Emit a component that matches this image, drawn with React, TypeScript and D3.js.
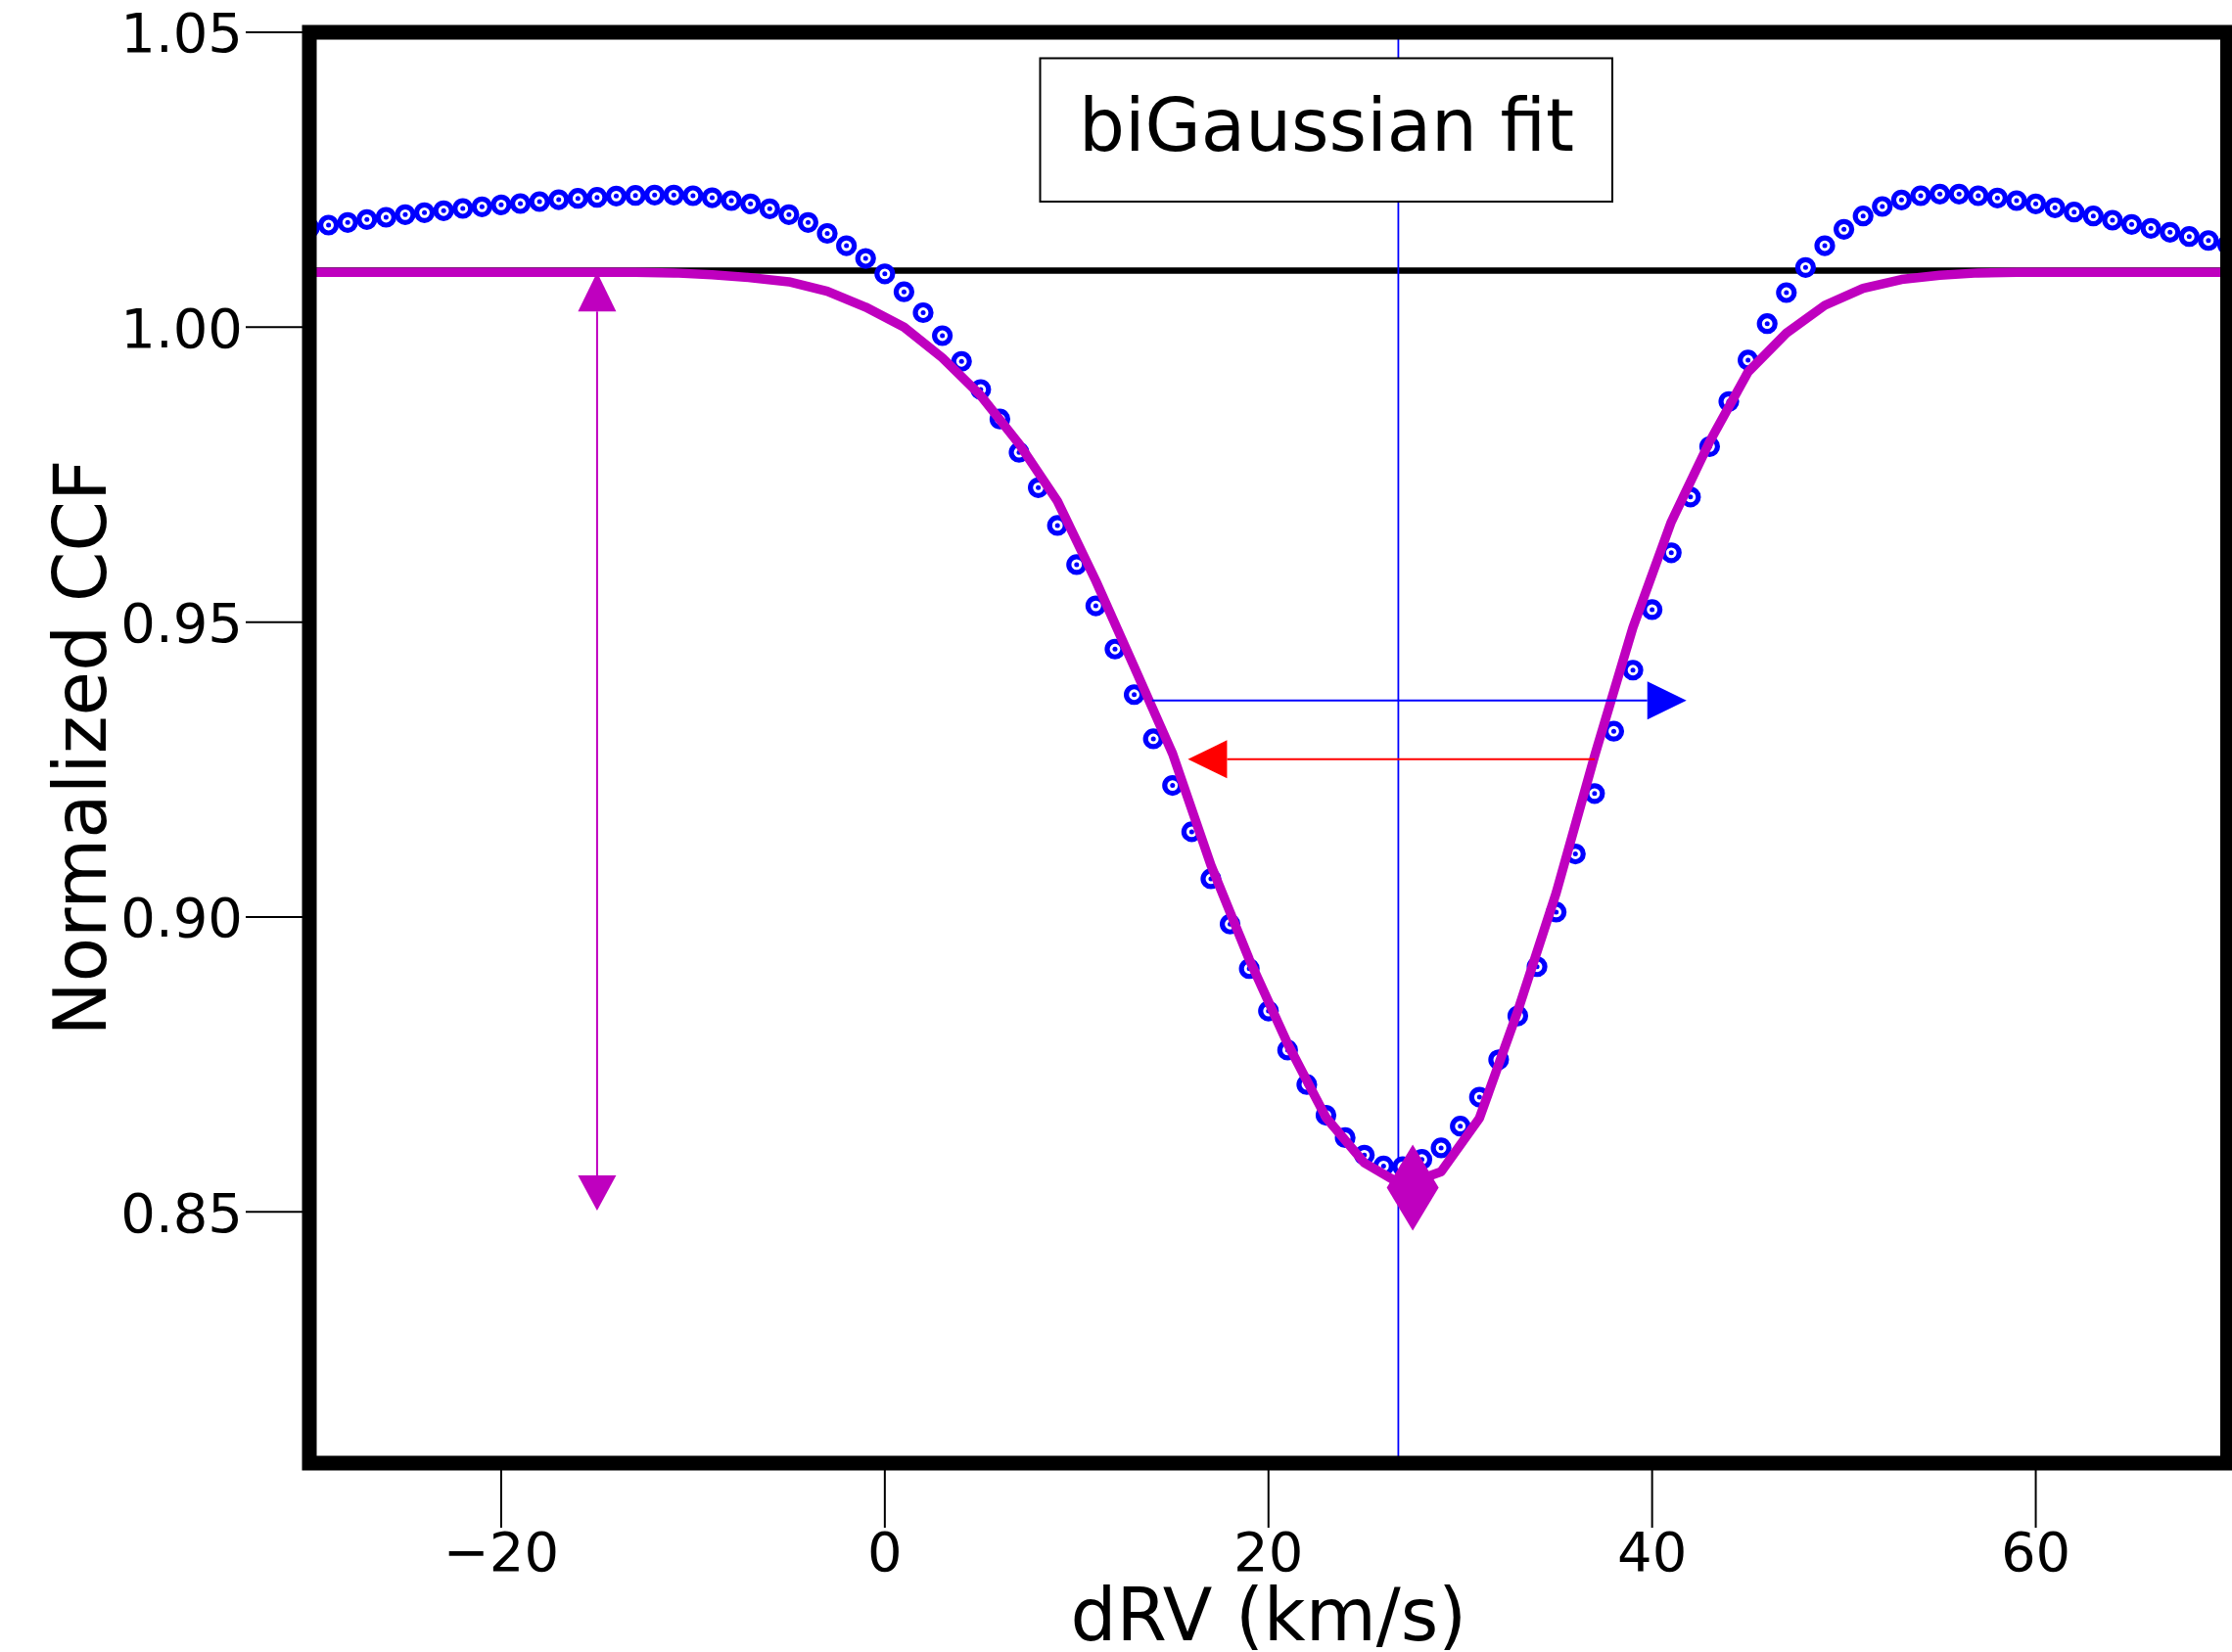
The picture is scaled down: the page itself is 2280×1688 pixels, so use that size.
import React, { useEffect } from "react";
import * as d3 from "d3";

// Radial velocity grid (km/s) and normalized CCF values
const rv = [
  -30, -29, -28, -27, -26, -25, -24, -23, -22, -21, -20, -19, -18, -17, -16, -15, -14, -13, -12, -11,
  -10, -9, -8, -7, -6, -5, -4, -3, -2, -1, 0, 1, 2, 3, 4, 5, 6, 7, 8, 9,
  10, 11, 12, 13, 14, 15, 16, 17, 18, 19, 20, 21, 22, 23, 24, 25, 26, 27, 28, 29,
  30, 31, 32, 33, 34, 35, 36, 37, 38, 39, 40, 41, 42, 43, 44, 45, 46, 47, 48, 49,
  50, 51, 52, 53, 54, 55, 56, 57, 58, 59, 60, 61, 62, 63, 64, 65, 66, 67, 68, 69, 70,
];
const ccf = [
  1.0168, 1.01731, 1.01775, 1.01825, 1.01864, 1.01908, 1.01941, 1.01975, 1.02013, 1.02041,
  1.02074, 1.02096, 1.02129, 1.02162, 1.02184, 1.02201, 1.02223, 1.02234, 1.0224, 1.0224,
  1.02229, 1.02195, 1.02146, 1.0209, 1.02007, 1.01908, 1.01775, 1.0159, 1.01381, 1.01166,
  1.00904, 1.006, 1.00246, 0.99856, 0.9942, 0.98943, 0.98442, 0.97878, 0.97278, 0.96638,
  0.95974, 0.95275, 0.94542, 0.9377, 0.9302, 0.9223, 0.91445, 0.90647, 0.89879, 0.89124,
  0.88405, 0.87743, 0.87159, 0.86638, 0.86258, 0.85962, 0.85778, 0.85767, 0.85889, 0.86085,
  0.86453, 0.86945, 0.87579, 0.88322, 0.89157, 0.90083, 0.91069, 0.92093, 0.93149, 0.94185,
  0.95211, 0.96175, 0.97121, 0.97975, 0.98739, 0.99442, 1.0006, 1.00586, 1.01012, 1.01382,
  1.01659, 1.01885, 1.02046, 1.02157, 1.02229, 1.02257, 1.02257, 1.02229, 1.0219, 1.02146,
  1.0209, 1.02025, 1.01952, 1.01885, 1.01814, 1.01742, 1.01676, 1.0161, 1.01537, 1.0147, 1.014,
];

// biGaussian fit curve
const fitRv = [
  -30, -29, -27, -25, -23, -21, -19, -17, -15, -13, -11, -9, -7, -5, -3, -1, 1, 3, 5, 7, 9,
  11, 13, 15, 17, 19, 21, 23, 25, 27, 29, 31, 33, 35, 37, 39, 41, 43, 45, 47, 49,
  51, 53, 55, 57, 59, 61, 63, 65, 67, 69, 70,
];
const fitCcf = [
  1.0093, 1.0093, 1.0093, 1.0093, 1.0093, 1.0093, 1.0093, 1.0093, 1.0093, 1.0093, 1.0092, 1.0089,
  1.0084, 1.0077, 1.0061, 1.0034, 1.0, 0.9948, 0.9884, 0.9802, 0.9705,
  0.957, 0.9424, 0.9277, 0.9088, 0.8928, 0.8785, 0.866, 0.8583, 0.8545, 0.8568,
  0.8659, 0.8841, 0.9041, 0.9273, 0.9491, 0.967, 0.9806, 0.9924, 0.999, 1.0037,
  1.0066, 1.0081, 1.0088, 1.0092, 1.0093, 1.0093, 1.0093, 1.0093, 1.0093, 1.0093, 1.0093,
];

const continuum = 1.0096;
const centerRv = 26.77;
const minRv = 27.52;
const minCcf = 0.8541;
const blueArrowY = 0.9367;
const blueArrowFrom = 13.93;
const blueArrowTo = 41.79;
const redArrowY = 0.92673;
const redArrowFrom = 37.01;
const redArrowTo = 15.8;
const depthRv = -15;
const depthTop = 1.0093;
const depthBottom = 0.8502;

const xTicks = [-20, 0, 20, 40, 60];
const yTicks = [0.85, 0.9, 0.95, 1.0, 1.05];
const titleText = "biGaussian fit";
const xLabel = "dRV (km/s)";
const yLabel = "Normalized CCF";

const W = 2280;
const H = 1688;
const L = 316;
const R = 2275.5;
const T = 33;
const B = 1495;
const FONT = "DejaVu Sans";
const MAG = "#bf00bf";

export default function App() {
  useEffect(() => {
    document.body.style.margin = "0";
  }, []);

  const x = d3.scaleLinear().domain([-30, 70]).range([L, R]);
  const y = d3.scaleLinear().domain([0.8074, 1.05]).range([B, T]);
  const fmtY = d3.format(".2f");
  const fmtX = d3.format("d");

  const fitLine = d3
    .line<number>()
    .x((_, i) => x(fitRv[i]))
    .y((d) => y(d))(fitCcf) as string;

  const headLen = 40;
  const headHalf = 19.5;

  const bY = y(blueArrowY);
  const bTip = x(blueArrowTo);
  const bBase = bTip - headLen;
  const rY = y(redArrowY);
  const rTip = x(redArrowTo);
  const rBase = rTip + headLen;
  const dX = x(depthRv);
  const dTop = y(depthTop);
  const dBot = y(depthBottom);

  const mx = x(minRv);
  const my = y(minCcf);

  return (
    <svg
      width={W}
      height={H}
      viewBox={`0 0 ${W} ${H}`}
      style={{ position: "absolute", left: 0, top: 0, display: "block", background: "white" }}
      fontFamily={FONT}
    >
      <defs>
        <clipPath id="plotClip">
          <rect x={L} y={T} width={R - L} height={B - T} />
        </clipPath>
      </defs>
      <rect x={0} y={0} width={W} height={H} fill="white" />

      <g clipPath="url(#plotClip)">
        <line x1={x(-30)} x2={x(70)} y1={y(continuum)} y2={y(continuum)} stroke="black" strokeWidth={6.5} />
        <line x1={x(centerRv)} x2={x(centerRv)} y1={T} y2={B} stroke="#0000ff" strokeWidth={1.8} />
        {ccf.map((v, i) => (
          <g key={i}>
            <circle cx={x(rv[i])} cy={y(v)} r={8} fill="white" stroke="#0000ff" strokeWidth={5.2} />
            <circle cx={x(rv[i])} cy={y(v)} r={2.5} fill="#0000ff" />
          </g>
        ))}
        <path d={fitLine} fill="none" stroke={MAG} strokeWidth={9.5} strokeLinejoin="round" />

        <line x1={x(blueArrowFrom)} x2={bBase} y1={bY} y2={bY} stroke="#0000ff" strokeWidth={2} />
        <path d={`M${bTip},${bY} L${bBase},${bY - headHalf} L${bBase},${bY + headHalf} Z`} fill="#0000ff" />
        <line x1={x(redArrowFrom)} x2={rBase} y1={rY} y2={rY} stroke="#ff0000" strokeWidth={2} />
        <path d={`M${rTip},${rY} L${rBase},${rY - headHalf} L${rBase},${rY + headHalf} Z`} fill="#ff0000" />
        <line x1={dX} x2={dX} y1={dTop + headLen} y2={dBot - 32} stroke={MAG} strokeWidth={2} />
        <path d={`M${dX},${dTop} L${dX - headHalf},${dTop + headLen} L${dX + headHalf},${dTop + headLen} Z`} fill={MAG} />
        <path d={`M${dX},${dBot} L${dX - headHalf},${dBot - 36} L${dX + headHalf},${dBot - 36} Z`} fill={MAG} />
        <path d={`M${mx},${my - 44} L${mx + 26.5},${my} L${mx},${my + 44} L${mx - 26.5},${my} Z`} fill={MAG} />

        <rect x={1062.5} y={59.5} width={584.5} height={146.5} fill="white" stroke="black" strokeWidth={2} />
        <text x={1355} y={154} fontSize={74} textAnchor="middle" fill="black">
          {titleText}
        </text>
      </g>

      <rect x={L} y={T} width={R - L} height={B - T} fill="none" stroke="black" strokeWidth={15} />

      {yTicks.map((t) => (
        <g key={t}>
          <line x1={L - 65} x2={L} y1={y(t)} y2={y(t)} stroke="black" strokeWidth={2} />
          <text x={248} y={y(t) + 20.4} fontSize={56} textAnchor="end" fill="black">
            {fmtY(t)}
          </text>
        </g>
      ))}
      {xTicks.map((t) => (
        <g key={t}>
          <line x1={x(t)} x2={x(t)} y1={B} y2={B + 66} stroke="black" strokeWidth={2} />
          <text x={x(t)} y={1605} fontSize={56} textAnchor="middle" fill="black">
            {fmtX(t)}
          </text>
        </g>
      ))}

      <text x={(L + R) / 2} y={1676} fontSize={74} textAnchor="middle" fill="black">
        {xLabel}
      </text>
      <text
        transform={`translate(108, ${(T + B) / 2}) rotate(-90)`}
        fontSize={74}
        textAnchor="middle"
        fill="black"
      >
        {yLabel}
      </text>
    </svg>
  );
}
